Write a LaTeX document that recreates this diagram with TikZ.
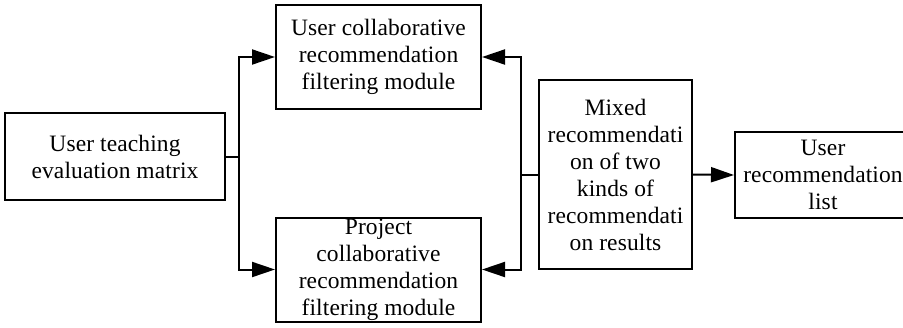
\documentclass[tikz,border=0pt]{standalone}
\usepackage{fontspec}
\setmainfont{Liberation Serif}[LetterSpace=0.5]
\usetikzlibrary{arrows.meta}
\begin{document}
\begin{tikzpicture}[x=1pt,y=-1pt,
  box/.style={draw=black,line width=2pt,inner sep=0pt,align=center,
    font=\fontsize{23.5}{27}\selectfont,text=black},
  conn/.style={line width=2pt,draw=black},
  arr/.style={conn,-{Triangle[length=23pt,width=15pt]}}]
\useasboundingbox (0,0) rectangle (903,327);
\node[box,minimum width=220pt,minimum height=87pt] (A) at (115,156.5) {User teaching\\evaluation matrix};
\node[box,minimum width=205pt,minimum height=104pt] (B) at (378.5,57) {User collaborative\\recommendation\\filtering module};
\node[box,minimum width=205pt,minimum height=104pt] (C) at (378.5,269.5) {Project\\collaborative\\recommendation\\filtering module};
\node[box,minimum width=153pt,minimum height=189pt] (D) at (615.5,174.5) {Mixed\\recommendati\\on of two\\kinds of\\recommendati\\on results};
\node[box,minimum width=176pt,minimum height=86pt] (E) at (823,175) {User\\recommendation\\list};
\coordinate (j1) at (239,156.5);
\coordinate (j2) at (521,174.5);
\draw[conn] (A.east) -- (j1);
\draw[arr] (j1) |- (B.west);
\draw[arr] (j1) |- (C.west);
\draw[conn] (D.west) -- (j2);
\draw[arr] (j2) |- (B.east);
\draw[arr] (j2) |- (C.east);
\draw[arr] (D.east) -- (E.west);
\end{tikzpicture}
\end{document}
